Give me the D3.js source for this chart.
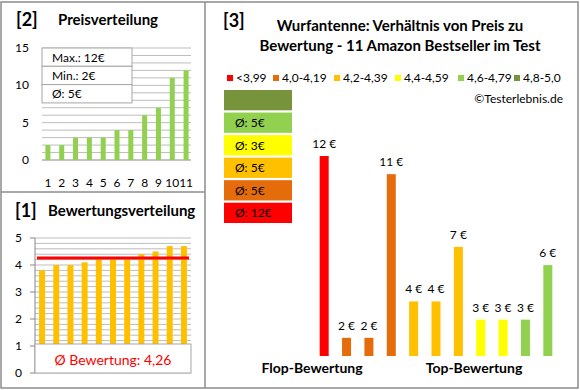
<!DOCTYPE html>
<html>
<head>
<meta charset="utf-8">
<script src="https://cdn.jsdelivr.net/npm/d3@7"></script>
<style>
    body{ margin:0; background:#fff; }
    svg text{ font-family: Lato, "Open Sans", sans-serif; fill:#000; }
    .ttl{ font-weight:bold; font-size:15px; }
    .sub{ font-weight:bold; font-size:14px; }
    .num{ font-size:12px; }
    .grid{ stroke:#bdbdbd; stroke-width:1; }
    .frame{ stroke:#8c8c8c; stroke-width:1.5; fill:none; }
</style>
</head>
<body>
<script>
// [2] price distribution (sorted)
const prices = [2,2,3,3,3,4,4,6,7,11,12]
const priceStats = ["Max.: 12€","Min.: 2€","Ø: 5€"]
// [1] rating distribution
const ratings = [3.8,4.0,4.0,4.1,4.2,4.2,4.2,4.4,4.5,4.7,4.7]
const avgRating = 4.26
const avgRatingLabel = "Ø Bewertung: 4,26"
// [3] price vs rating
const ratioPrices = [12,2,2,11,4,4,7,3,3,3,6]
const ratioGroup = [0,1,1,1,2,2,2,3,3,4,4]
const groupLabels = ["<3,99","4,0-4,19","4,2-4,39","4,4-4,59","4,6-4,79","4,8-5,0"]
const groupColors = ["#ff0000","#e46c0a","#ffc000","#ffff00","#92d050","#77933c"]
const groupAvg = ["Ø: 12€","Ø: 5€","Ø: 5€","Ø: 3€","Ø: 5€",""]
const idx = d3.range(1, 12)

let svg = d3.select("body").append("svg")
    .attr("width", 580).attr("height", 390)

// ---------- panel [2] ----------
let x2 = d3.scaleBand().domain(idx).range([41,193])
let y2 = d3.scaleLinear().domain([0,15]).range([160,48])
let g2 = svg.append("g")
g2.selectAll(".grid").data(d3.range(1,16)).join("line")
    .attr("class","grid")
    .attr("x1",42).attr("x2",191)
    .attr("y1",d=>y2(d)).attr("y2",d=>y2(d))
g2.append("line").attr("x1",42).attr("x2",191)
    .attr("y1",y2(0)).attr("y2",y2(0)).attr("stroke","#868686")
g2.selectAll(".yl").data([0,5,10,15]).join("text")
    .attr("class","num").attr("x",29).attr("y",d=>y2(d)+4)
    .attr("text-anchor","end").text(d=>d)
g2.selectAll("rect").data(prices).join("rect")
    .attr("x",(d,i)=>x2(idx[i])+x2.bandwidth()/2-2.5)
    .attr("width",5)
    .attr("y",d=>y2(d)).attr("height",d=>y2(0)-y2(d))
    .attr("fill","#92d050")
g2.selectAll(".xl").data(idx).join("text")
    .attr("class","num").attr("x",d=>x2(d)+x2.bandwidth()/2).attr("y",187)
    .attr("text-anchor","middle").text(d=>d)
// stats box
let rowH = 18.3
g2.selectAll(".sb").data(priceStats).join("rect")
    .attr("x",42).attr("y",(d,i)=>48+i*rowH)
    .attr("width",90).attr("height",rowH)
    .attr("fill","#fff").attr("stroke","#a6a6a6")
g2.selectAll(".st").data(priceStats).join("text")
    .attr("class","num").attr("x",52).attr("y",(d,i)=>48+i*rowH+13.5)
    .text(d=>d)
svg.append("text").attr("x",16).attr("y",26)
    .attr("font-size",18).attr("font-weight","bold").text("[2]")
svg.append("text").attr("class","ttl").attr("x",58).attr("y",25).text("Preisverteilung")

// ---------- panel [1] ----------
let x1 = d3.scaleBand().domain(idx).range([35,191])
let y1 = d3.scaleLinear().domain([0,5]).range([373,238])
let g1 = svg.append("g")
g1.selectAll(".grid").data(d3.range(0,5.01,0.2)).join("line")
    .attr("class","grid")
    .attr("x1",35).attr("x2",191)
    .attr("y1",d=>y1(d)).attr("y2",d=>y1(d))
g1.append("line").attr("x1",35).attr("x2",35)
    .attr("y1",y1(0)).attr("y2",y1(5)).attr("stroke","#868686")
g1.selectAll(".tk").data(d3.range(0,6)).join("line")
    .attr("x1",30).attr("x2",35)
    .attr("y1",d=>y1(d)).attr("y2",d=>y1(d)).attr("stroke","#868686")
g1.selectAll(".yl").data(d3.range(0,6)).join("text")
    .attr("class","num").attr("x",22).attr("y",d=>y1(d)+4)
    .attr("text-anchor","end").text(d=>d)
g1.selectAll("rect.bar").data(ratings).join("rect")
    .attr("class","bar")
    .attr("x",(d,i)=>x1(idx[i])+x1.bandwidth()/2-3)
    .attr("width",6)
    .attr("y",d=>y1(d)).attr("height",d=>y1(0)-y1(d))
    .attr("fill","#ffc000")
g1.append("line")
    .attr("x1",x1(1)+2).attr("x2",x1(11)+x1.bandwidth()-2)
    .attr("y1",y1(avgRating)).attr("y2",y1(avgRating))
    .attr("stroke","#ff0000").attr("stroke-width",3)
g1.append("rect").attr("x",35).attr("y",y1(1)-2)
    .attr("width",156).attr("height",y1(0)-y1(1)+2)
    .attr("fill","#fff").attr("stroke","#a6a6a6")
let avgT = g1.append("text").attr("y",y1(0.5)+5)
    .attr("font-size",14)
    .style("fill","#ff0000").text(avgRatingLabel)
avgT.attr("x",113 - avgT.node().getComputedTextLength()/2)
svg.append("text").attr("x",15).attr("y",217)
    .attr("font-size",18).attr("font-weight","bold").text("[1]")
svg.append("text").attr("class","ttl").attr("x",48).attr("y",216).text("Bewertungsverteilung")

// ---------- panel [3] ----------
let x3 = d3.scaleBand().domain(idx).range([313,559])
let y3 = d3.scaleLinear().domain([1,12]).range([356,156])
let g3 = svg.append("g")
g3.selectAll("rect.bar").data(ratioPrices).join("rect")
    .attr("class","bar")
    .attr("x",(d,i)=>x3(idx[i])+x3.bandwidth()/2-4.5)
    .attr("width",9)
    .attr("y",d=>y3(d)).attr("height",d=>y3(1)-y3(d))
    .attr("fill",(d,i)=>groupColors[ratioGroup[i]])
g3.selectAll(".vl").data(ratioPrices).join("text")
    .attr("class","num")
    .attr("x",(d,i)=>x3(idx[i])+x3.bandwidth()/2)
    .attr("y",d=>y3(d)-8)
    .attr("text-anchor","middle").text(d=>d+" €")
// stacked avg boxes (top = best group)
let yb = d3.scaleBand().domain(d3.range(5,-1,-1)).range([90,223]).paddingInner(0.1)
g3.selectAll("rect.avg").data(groupColors).join("rect")
    .attr("class","avg")
    .attr("x",224).attr("width",68)
    .attr("y",(d,i)=>yb(i)).attr("height",yb.bandwidth())
    .attr("fill",d=>d)
g3.selectAll(".at").data(groupAvg).join("text")
    .attr("class","num").attr("x",235)
    .attr("y",(d,i)=>yb(i)+yb.bandwidth()/2+4.5)
    .text(d=>d)
// legend row
let lx = [227,273,334,395,458,514]
let lg = g3.selectAll(".lg").data(groupLabels).join("g")
    .attr("transform",(d,i)=>"translate("+lx[i]+",75)")
lg.append("rect").attr("width",6).attr("height",6).attr("fill",(d,i)=>groupColors[i])
lg.append("text").attr("class","num").attr("x",9).attr("y",7).text(d=>d)
g3.append("text").attr("class","num").attr("x",563).attr("y",103)
    .attr("text-anchor","end").text("©Testerlebnis.de")
svg.append("text").attr("x",223).attr("y",27)
    .attr("font-size",18).attr("font-weight","bold").text("[3]")
svg.append("text").attr("class","ttl").attr("x",400).attr("y",31)
    .attr("text-anchor","middle").text("Wurfantenne: Verhältnis von Preis zu")
svg.append("text").attr("class","ttl").attr("x",400).attr("y",51)
    .attr("text-anchor","middle").text("Bewertung - 11 Amazon Bestseller im Test")
svg.append("text").attr("class","sub").attr("x",312).attr("y",373)
    .attr("text-anchor","middle").text("Flop-Bewertung")
svg.append("text").attr("class","sub").attr("x",474).attr("y",373)
    .attr("text-anchor","middle").text("Top-Bewertung")

// ---------- frames ----------
svg.append("rect").attr("class","frame").attr("x",1).attr("y",2).attr("width",577).attr("height",386)
svg.append("line").attr("class","frame").attr("x1",205).attr("x2",205).attr("y1",2).attr("y2",388)
svg.append("line").attr("class","frame").attr("x1",1).attr("x2",205).attr("y1",192).attr("y2",192)
</script>
</body>
</html>
